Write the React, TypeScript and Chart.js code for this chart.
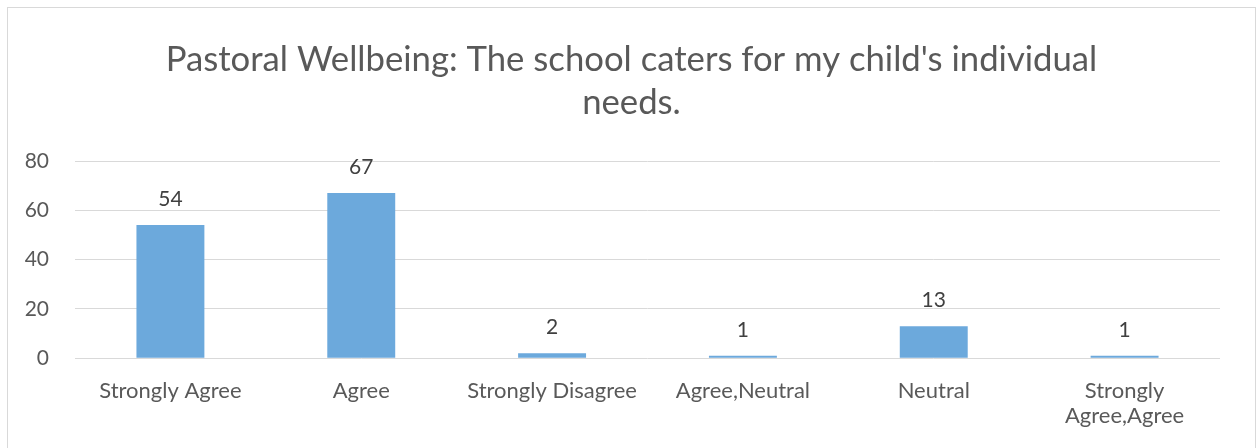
import React, { useEffect, useRef } from "react";
import { Chart, registerables } from "chart.js";

Chart.register(...registerables);

const categories: (string | string[])[] = [
  "Strongly Agree",
  "Agree",
  "Strongly Disagree",
  "Agree,Neutral",
  "Neutral",
  ["Strongly", "Agree,Agree"],
];
const counts: number[] = [54, 67, 2, 1, 13, 1];
const yTicks: number[] = [0, 20, 40, 60, 80];
const titleLines: string[] = [
  "Pastoral Wellbeing: The school caters for my child's individual",
  "needs.",
];

const FONT = "Lato";

const dataLabels = {
  id: "dataLabels",
  afterDatasetsDraw(chart: any) {
    const ctx = chart.ctx;
    const meta = chart.getDatasetMeta(0);
    ctx.save();
    ctx.font = `21px ${FONT}`;
    ctx.fillStyle = "#404040";
    ctx.textAlign = "center";
    ctx.textBaseline = "alphabetic";
    meta.data.forEach((bar: any, i: number) => {
      ctx.fillText(String(counts[i]), bar.x, bar.y - 19);
    });
    ctx.restore();
  },
};

export default function App() {
  const ref = useRef<HTMLCanvasElement | null>(null);
  useEffect(() => {
    if (!ref.current) return;
    const chart = new Chart(ref.current, {
      type: "bar",
      data: {
        labels: categories,
        datasets: [
          {
            data: counts,
            backgroundColor: "#6CA9DC",
            borderWidth: 0,
            categoryPercentage: 1,
            barPercentage: 0.356,
            yAxisID: "y",
          },
        ],
      },
      options: {
        animation: false,
        responsive: true,
        maintainAspectRatio: false,
        layout: { padding: { left: 5, right: 0, top: 0, bottom: 9.7 } },
        plugins: {
          legend: { display: false },
          tooltip: { enabled: false },
          title: {
            display: true,
            text: titleLines,
            color: "#595959",
            font: { family: FONT, size: 34.7, weight: "normal", lineHeight: "43px" },
            padding: { top: 38, bottom: 37 },
          },
        },
        scales: {
          x: {
            grid: { display: false },
            border: { display: false },
            ticks: {
              color: "#595959",
              font: { family: FONT, size: 22, lineHeight: "25px" },
              padding: 12,
              maxRotation: 0,
              autoSkip: false,
            },
            afterFit: (s: any) => {
              s.height = 80;
            },
          },
          y: {
            position: "left",
            min: 0,
            max: 80,
            afterBuildTicks: (s: any) => {
              s.ticks = yTicks.map((v) => ({ value: v }));
            },
            grid: { color: "#D9D9D9", lineWidth: 1, drawTicks: false },
            border: { display: false },
            ticks: {
              color: "#595959",
              font: { family: FONT, size: 21 },
              padding: 26,
            },
            afterFit: (s: any) => {
              s.width = 70;
            },
          },
          yr: {
            position: "right",
            min: 0,
            max: 80,
            grid: { display: false, drawTicks: false },
            border: { display: false },
            ticks: { display: false },
            afterFit: (s: any) => {
              s.width = 38;
            },
          },
        },
      },
      plugins: [dataLabels],
    });
    return () => chart.destroy();
  }, []);

  return (
    <div
      style={{
        position: "fixed",
        left: 0,
        top: 0,
        width: 1258,
        height: 448,
        overflow: "hidden",
        background: "#fff",
      }}
    >
      <div
        style={{
          position: "absolute",
          left: 7,
          top: 7,
          width: 1249,
          height: 470,
          border: "1px solid #D9D9D9",
          boxSizing: "border-box",
        }}
      />
      <div style={{ position: "absolute", left: 0, top: 0, width: 1258, height: 448 }}>
        <canvas ref={ref} />
      </div>
    </div>
  );
}
